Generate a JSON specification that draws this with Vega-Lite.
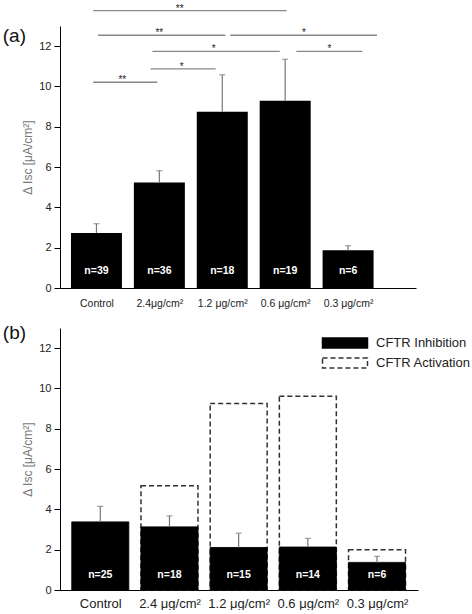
{
  "$schema": "https://vega.github.io/schema/vega-lite/v6.json",
  "padding": {"left": 2, "top": 3, "right": 0, "bottom": 0},
  "spacing": 15,
  "resolve": {"legend": {"fill": "independent", "stroke": "independent", "strokeDash": "independent"}},
  "config": {
    "view": {"stroke": null},
    "font": "Liberation Sans",
    "axis": {"grid": false, "domainColor": "#000", "tickColor": "#000", "labelColor": "#222", "labelFont": "Liberation Sans", "titleFont": "Liberation Sans"}
  },
  "vconcat": [
    {
      "width": 356,
      "height": 262,
      "data": {"values": [
        {"i": 1, "value": 2.73, "err": 3.19, "n": "n=39"},
        {"i": 2, "value": 5.23, "err": 5.82, "n": "n=36"},
        {"i": 3, "value": 8.75, "err": 10.58, "n": "n=18"},
        {"i": 4, "value": 9.29, "err": 11.35, "n": "n=19"},
        {"i": 5, "value": 1.87, "err": 2.10, "n": "n=6"}
      ]},
      "layer": [
        {
          "mark": {"type": "bar", "size": 51, "color": "#000"},
          "encoding": {
            "x": {"field": "i", "type": "quantitative", "scale": {"domain": [0.5, 6.0], "nice": false, "zero": false},
              "axis": {"values": [1, 2, 3, 4, 5], "ticks": false, "title": null, "labelFontSize": 10.5, "labelPadding": 10,
                "labelExpr": "['', 'Control', '2.4μg/cm²', '1.2 μg/cm²', '0.6 μg/cm²', '0.3 μg/cm²'][datum.value]"}},
            "y": {"field": "value", "type": "quantitative", "scale": {"domain": [0, 13], "nice": false},
              "axis": {"values": [0, 1, 2, 3, 4, 5, 6, 7, 8, 9, 10, 11, 12], "labelExpr": "datum.value % 2 == 0 ? datum.label : ''",
                "tickSize": {"condition": {"test": "datum.value % 2 == 0", "value": 6}, "value": 3},
                "labelFontSize": 11, "labelPadding": 3, "title": "Δ Isc [μA/cm²]", "titleFontSize": 12, "titleFontWeight": "normal", "titleColor": "#777", "titlePadding": 4}}
          }
        },
        {
          "mark": {"type": "rule", "color": "#777", "strokeWidth": 1.2},
          "encoding": {"x": {"field": "i", "type": "quantitative"}, "y": {"field": "value", "type": "quantitative"}, "y2": {"field": "err"}}
        },
        {
          "mark": {"type": "tick", "orient": "horizontal", "color": "#777", "size": 6, "thickness": 1.2},
          "encoding": {"x": {"field": "i", "type": "quantitative"}, "y": {"field": "err", "type": "quantitative"}}
        },
        {
          "mark": {"type": "text", "color": "#fff", "fontSize": 10.5, "fontWeight": "bold"},
          "encoding": {"x": {"field": "i", "type": "quantitative"}, "y": {"datum": 0.85}, "text": {"field": "n"}}
        },
        {
          "data": {"values": [
            {"x1": 0.948, "x2": 4.022, "mid": 2.323, "level": 13.76, "stars": "**"},
            {"x1": 1.025, "x2": 3.049, "mid": 1.999, "level": 12.54, "stars": "**"},
            {"x1": 3.126, "x2": 5.459, "mid": 4.30, "level": 12.54, "stars": "*"},
            {"x1": 1.890, "x2": 3.914, "mid": 2.864, "level": 11.74, "stars": "*"},
            {"x1": 4.177, "x2": 5.227, "mid": 4.702, "level": 11.74, "stars": "*"},
            {"x1": 1.860, "x2": 2.895, "mid": 2.354, "level": 10.87, "stars": "*"},
            {"x1": 0.948, "x2": 1.968, "mid": 1.411, "level": 10.21, "stars": "**"}
          ]},
          "layer": [
            {
              "mark": {"type": "rule", "color": "#888", "strokeWidth": 1.3, "clip": false},
              "encoding": {"x": {"field": "x1", "type": "quantitative"}, "x2": {"field": "x2"}, "y": {"field": "level", "type": "quantitative"}}
            },
            {
              "mark": {"type": "text", "color": "#222", "fontSize": 10, "baseline": "alphabetic", "dy": 1},
              "encoding": {"x": {"field": "mid", "type": "quantitative"}, "y": {"field": "level", "type": "quantitative"}, "text": {"field": "stars"}}
            }
          ]
        },
        {
          "data": {"values": [{"panel": "(a)"}]},
          "mark": {"type": "text", "fontSize": 19, "align": "left", "baseline": "middle", "color": "#111"},
          "encoding": {"x": {"datum": -0.489}, "y": {"datum": 12.5}, "text": {"field": "panel"}}
        }
      ]
    },
    {
      "width": 358,
      "height": 262,
      "data": {"values": [
        {"i": 1, "inhib": 3.38, "err": 4.15, "act": null, "n": "n=25"},
        {"i": 2, "inhib": 3.13, "err": 3.68, "act": 5.17, "n": "n=18"},
        {"i": 3, "inhib": 2.11, "err": 2.82, "act": 9.25, "n": "n=15"},
        {"i": 4, "inhib": 2.13, "err": 2.56, "act": 9.61, "n": "n=14"},
        {"i": 5, "inhib": 1.37, "err": 1.67, "act": 2.0, "n": "n=6"}
      ]},
      "layer": [
        {
          "transform": [{"filter": "datum.act != null"}, {"fold": ["act"], "as": ["k", "v"]}],
          "mark": {"type": "bar", "size": 57, "strokeWidth": 1.5},
          "encoding": {
            "x": {"field": "i", "type": "quantitative", "scale": {"domain": [0.49, 5.52], "nice": false, "zero": false},
              "axis": {"values": [1, 2, 3, 4, 5], "ticks": false, "title": null, "labelFontSize": 13, "labelPadding": 7,
                "labelExpr": "['', 'Control', '2.4 μg/cm²', '1.2 μg/cm²', '0.6 μg/cm²', '0.3 μg/cm²'][datum.value]"}},
            "y": {"field": "v", "type": "quantitative", "scale": {"domain": [0, 13], "nice": false},
              "axis": {"values": [0, 1, 2, 3, 4, 5, 6, 7, 8, 9, 10, 11, 12], "labelExpr": "datum.value % 2 == 0 ? datum.label : ''",
                "tickSize": {"condition": {"test": "datum.value % 2 == 0", "value": 6}, "value": 3},
                "labelFontSize": 11, "labelPadding": 3, "title": "Δ Isc [μA/cm²]", "titleFontSize": 12, "titleFontWeight": "normal", "titleColor": "#777", "titlePadding": 4}},
            "fill": {"datum": "CFTR Activation", "type": "nominal", "scale": {"domain": ["CFTR Inhibition", "CFTR Activation"], "range": ["#000", "#fff"]},
              "legend": {"title": null, "orient": "none", "legendX": 273, "legendY": 3, "labelFontSize": 13, "labelColor": "#222", "labelOffset": 19, "rowPadding": 0,
                "symbolType": "M-2,-0.44H2V0.44H-2Z", "symbolSize": 506, "symbolStrokeWidth": 1.5}},
            "stroke": {"datum": "CFTR Activation", "type": "nominal", "scale": {"domain": ["CFTR Inhibition", "CFTR Activation"], "range": ["#000", "#333"]}},
            "strokeDash": {"datum": "CFTR Activation", "type": "nominal", "scale": {"domain": ["CFTR Inhibition", "CFTR Activation"], "range": [[1, 0], [5, 3]]}}
          }
        },
        {
          "mark": {"type": "bar", "size": 57, "strokeWidth": 1},
          "encoding": {
            "x": {"field": "i", "type": "quantitative"},
            "y": {"field": "inhib", "type": "quantitative"},
            "fill": {"datum": "CFTR Inhibition", "type": "nominal"},
            "stroke": {"datum": "CFTR Inhibition", "type": "nominal"},
            "strokeDash": {"datum": "CFTR Inhibition", "type": "nominal"}
          }
        },
        {
          "mark": {"type": "rule", "color": "#777", "strokeWidth": 1.2},
          "encoding": {"x": {"field": "i", "type": "quantitative"}, "y": {"field": "inhib", "type": "quantitative"}, "y2": {"field": "err"}}
        },
        {
          "mark": {"type": "tick", "orient": "horizontal", "color": "#777", "size": 6, "thickness": 1.2},
          "encoding": {"x": {"field": "i", "type": "quantitative"}, "y": {"field": "err", "type": "quantitative"}}
        },
        {
          "mark": {"type": "text", "color": "#fff", "fontSize": 10.5, "fontWeight": "bold"},
          "encoding": {"x": {"field": "i", "type": "quantitative"}, "y": {"datum": 0.75}, "text": {"field": "n"}}
        },
        {
          "data": {"values": [{"panel": "(b)"}]},
          "mark": {"type": "text", "fontSize": 19, "align": "left", "baseline": "middle", "color": "#111"},
          "encoding": {"x": {"datum": -0.409}, "y": {"datum": 12.75}, "text": {"field": "panel"}}
        }
      ]
    }
  ]
}
